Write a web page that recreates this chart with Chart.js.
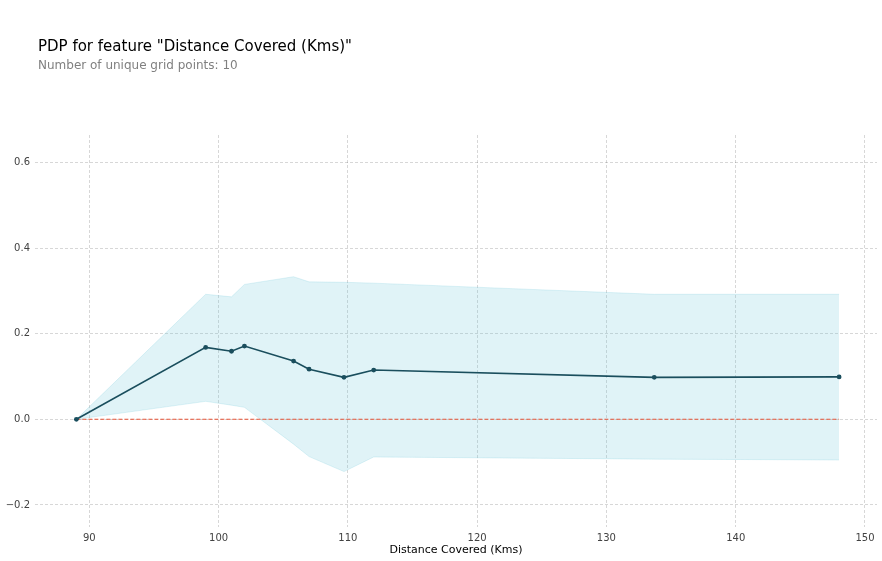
<!DOCTYPE html>
<html>
<head>
<meta charset="utf-8">
<script src="https://cdn.jsdelivr.net/npm/chart.js@4.4.1/dist/chart.umd.min.js"></script>
<style>
  html, body { margin: 0; padding: 0; background: #fff; }
  #wrap { position: relative; width: 882px; height: 561px; }
  #pdp-chart { position: absolute; left: 0; top: 0; }
  .ttl { position: absolute; left: 38px; font-family: "DejaVu Sans", sans-serif; white-space: nowrap; }
  #ttl-main { top: 37px; font-size: 15px; color: #000; }
  #ttl-sub  { top: 58px; font-size: 12px; color: #808080; }
</style>
</head>
<body>
<div id="wrap">
  <canvas id="pdp-chart" width="882" height="561"></canvas>
  <div class="ttl" id="ttl-main">PDP for feature "Distance Covered (Kms)"</div>
  <div class="ttl" id="ttl-sub">Number of unique grid points: 10</div>
</div>
<script>
/* ---- data -------------------------------------------------------- */
const gridX   = [89.0, 99.0, 101.0, 102.0, 105.8, 107.0, 109.7, 112.0, 133.7, 148.0];
const pdpY    = [0, 0.168, 0.159, 0.171, 0.136, 0.117, 0.098, 0.115, 0.098, 0.099];
const upperY  = [0, 0.292, 0.286, 0.315, 0.333, 0.321, 0.320, 0.318, 0.292, 0.292];
const lowerY  = [0, 0.042, 0.033, 0.028, -0.058, -0.087, -0.122, -0.088, -0.093, -0.095];
const xTicks  = [90, 100, 110, 120, 130, 140, 150];
const yTicks  = [-0.2, 0.0, 0.2, 0.4, 0.6];

(function () {
  "use strict";

  /* ---- colours ---------------------------------------------------- */
  const C_LINE = "#1A4E5D";
  const C_FILL = "rgba(102,194,215,0.2)";
  const C_ZERO = "#E75438";
  const C_GRID = "rgba(0,0,0,0.2)";
  const C_TICK = "#424242";
  const FONT   = "'DejaVu Sans', sans-serif";

  const pts = (ys) => gridX.map((x, i) => ({ x: x, y: ys[i] }));
  const fixTicks = (vals) => (scale) => { scale.ticks = vals.map((v) => ({ value: v })); };

  new Chart(document.getElementById("pdp-chart").getContext("2d"), {
    type: "line",
    data: {
      datasets: [
        { /* pdp line */
          data: pts(pdpY), borderColor: C_LINE, backgroundColor: C_LINE,
          borderWidth: 1.6, pointRadius: 2.4, pointBorderWidth: 0, order: 0,
        },
        { /* zero baseline, only across the grid range */
          data: [{ x: gridX[0], y: 0 }, { x: gridX[gridX.length - 1], y: 0 }],
          borderColor: C_ZERO, borderWidth: 1.1, borderDash: [4, 2],
          pointRadius: 0, order: 1,
        },
        { /* upper bound */
          data: pts(upperY), borderColor: C_FILL, backgroundColor: C_FILL,
          borderWidth: 1, pointRadius: 0, fill: "+1", order: 2,
        },
        { /* lower bound */
          data: pts(lowerY), borderColor: C_FILL, backgroundColor: C_FILL,
          borderWidth: 1, pointRadius: 0, order: 3,
        },
      ],
    },
    options: {
      responsive: false,
      animation: false,
      layout: { padding: { left: 0, top: 135, right: 5, bottom: 0 } },
      plugins: { legend: { display: false }, tooltip: { enabled: false } },
      scales: {
        x: {
          type: "linear", min: 85.8, max: 150.93,
          afterBuildTicks: fixTicks(xTicks),
          afterFit: (s) => { s.height = 34; },
          border: { display: false, dash: [3, 2] },
          grid: { color: C_GRID, lineWidth: 0.8, drawTicks: false },
          ticks: { color: C_TICK, padding: 5, font: { family: FONT, size: 10 }, maxRotation: 0 },
          title: {
            display: true, text: "Distance Covered (Kms)", color: "#000",
            font: { family: FONT, size: 11 }, padding: { top: 0, bottom: 4 },
          },
        },
        y: {
          type: "linear", min: -0.2515, max: 0.664,
          afterBuildTicks: fixTicks(yTicks),
          afterFit: (s) => { s.width = 35; },
          border: { display: false, dash: [3, 2] },
          grid: { color: C_GRID, lineWidth: 0.8, drawTicks: false },
          ticks: {
            color: C_TICK, padding: 5, font: { family: FONT, size: 10 },
            callback: (v) => v.toFixed(1).replace("-", "\u2212"),
          },
        },
      },
    },
  });
})();
</script>
</body>
</html>
